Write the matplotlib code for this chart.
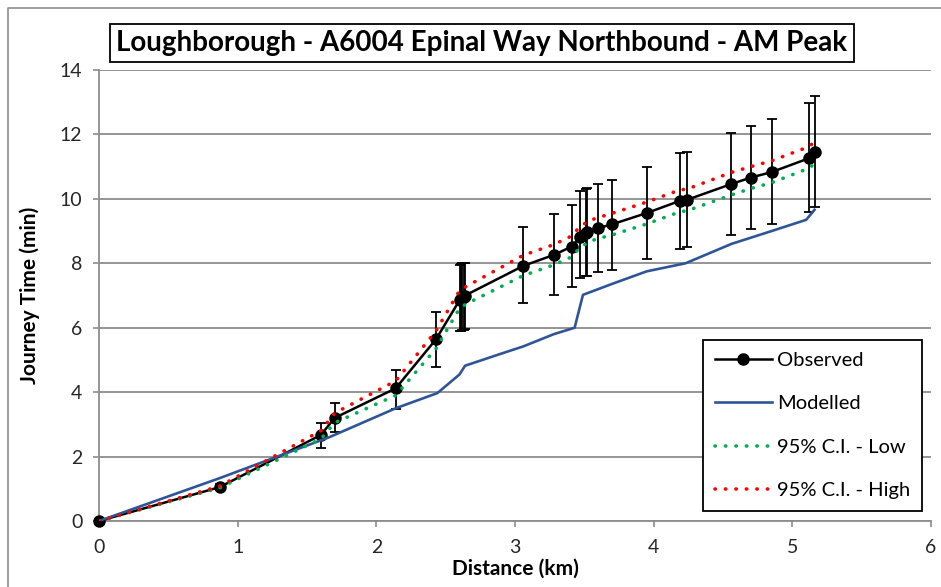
import matplotlib.pyplot as plt
from matplotlib.lines import Line2D

# ============================================================
# DATI
# ============================================================
distanza = [0.00, 0.87, 1.60, 1.70, 2.14, 2.43, 2.60, 2.61, 2.62, 2.63, 2.64,
            3.06, 3.28, 3.41, 3.47, 3.51, 3.52, 3.60, 3.70, 3.95, 4.19, 4.24,
            4.56, 4.70, 4.85, 5.12, 5.16]
osservato = [0.00, 1.05, 2.67, 3.20, 4.12, 5.64, 6.85, 6.88, 6.92, 6.96, 7.00,
             7.92, 8.26, 8.52, 8.83, 8.93, 8.98, 9.09, 9.21, 9.56, 9.94, 9.97,
             10.46, 10.66, 10.83, 11.26, 11.47]
err_basso = [0.00, 0.95, 2.26, 2.75, 3.48, 4.79, 5.90, 5.91, 5.92, 5.93, 5.95,
             6.76, 7.02, 7.25, 7.54, 7.59, 7.61, 7.74, 7.80, 8.14, 8.44, 8.50,
             8.88, 9.06, 9.21, 9.60, 9.74]
err_alto = [0.00, 1.15, 3.05, 3.65, 4.69, 6.50, 7.95, 7.97, 8.00, 8.01, 8.02,
            9.14, 9.52, 9.81, 10.23, 10.31, 10.33, 10.46, 10.59, 11.00, 11.42, 11.47,
            12.04, 12.27, 12.48, 12.99, 13.20]
ci_basso = [0.00, 1.03, 2.55, 3.05, 3.90, 5.35, 6.60, 6.62, 6.65, 6.68, 6.72,
            7.62, 7.95, 8.20, 8.50, 8.60, 8.65, 8.77, 8.88, 9.22, 9.60, 9.63,
            10.12, 10.32, 10.50, 10.95, 11.09]
ci_alto = [0.00, 1.08, 2.80, 3.35, 4.35, 5.90, 7.15, 7.18, 7.20, 7.23, 7.26,
           8.25, 8.58, 8.85, 9.15, 9.25, 9.30, 9.42, 9.55, 9.90, 10.28, 10.30,
           10.82, 11.00, 11.18, 11.62, 11.77]

dist_modello = [0.00, 0.87, 1.66, 2.14, 2.44, 2.60, 2.64, 2.89, 3.06, 3.28,
                3.43, 3.49, 3.70, 3.95, 4.23, 4.56, 4.85, 5.10, 5.16]
modellato = [0.00, 1.33, 2.60, 3.50, 3.97, 4.55, 4.82, 5.18, 5.42, 5.80,
             6.00, 7.02, 7.36, 7.75, 8.00, 8.60, 9.00, 9.35, 9.66]

TITOLO = "Loughborough - A6004 Epinal Way Northbound - AM Peak"

# ============================================================
# STILE
# ============================================================
FONT = "Lato"
COL_GRID = "#8c8c8c"
COL_MOD = "#2F5597"
COL_LOW = "#00B050"
COL_HIGH = "#FF0000"
DOTS = (0, (0.1, 2.8))

plt.rcParams["font.family"] = FONT

fig = plt.figure(figsize=(9.41, 5.87), dpi=100)
ax = fig.add_axes([99 / 941, 1 - 521 / 587, (931 - 99) / 941, (521 - 70) / 587])

ax.set_xlim(0, 6)
ax.set_ylim(0, 14)
ax.set_xticks(range(0, 7))
ax.set_yticks(range(0, 15, 2))
ax.yaxis.grid(True, color=COL_GRID, linewidth=1.3)
ax.set_axisbelow(True)
for s in ("top", "right"):
    ax.spines[s].set_visible(False)
for s in ("left", "bottom"):
    ax.spines[s].set_color(COL_GRID)
    ax.spines[s].set_linewidth(1.3)
ax.tick_params(colors=COL_GRID, labelcolor="#262626", labelsize=14,
               length=4, width=1.2, direction="out")
ax.tick_params(axis="x", pad=9)
ax.tick_params(axis="y", pad=8)

# osservato + barre d'errore
yerr = [[o - b for o, b in zip(osservato, err_basso)],
        [a - o for o, a in zip(osservato, err_alto)]]
ax.errorbar(distanza, osservato, yerr=yerr, color="black", linewidth=1.8,
            marker="o", markersize=8, ecolor="black", elinewidth=1.3,
            capsize=3.8, capthick=1.3, zorder=3, clip_on=False)
ax.plot(dist_modello, modellato, color=COL_MOD, linewidth=1.9, zorder=4)
ax.plot(distanza, ci_basso, color=COL_LOW, linewidth=2.6,
        linestyle=DOTS, dash_capstyle="round", zorder=5)
ax.plot(distanza, ci_alto, color=COL_HIGH, linewidth=2.6,
        linestyle=DOTS, dash_capstyle="round", zorder=6)

ax.set_xlabel("Distance (km)", fontsize=15, fontweight="bold", labelpad=2)
ax.set_ylabel("Journey Time (min)", fontsize=15, fontweight="bold", labelpad=14)

handles = [
    Line2D([], [], color="black", linewidth=1.8, marker="o", markersize=8),
    Line2D([], [], color=COL_MOD, linewidth=1.9),
    Line2D([], [], color=COL_LOW, linewidth=2.6, linestyle=DOTS,
           dash_capstyle="round"),
    Line2D([], [], color=COL_HIGH, linewidth=2.6, linestyle=DOTS,
           dash_capstyle="round"),
]
labels = ["Observed", "Modelled", "95% C.I. - Low", "95% C.I. - High"]
leg = ax.legend(handles, labels, loc="lower right",
                bbox_to_anchor=((922 - 99) / 832, (521 - 511) / 451),
                fontsize=14.5, handlelength=2.8, labelspacing=1.3,
                borderpad=0.6, handletextpad=0.25, borderaxespad=0,
                fancybox=False, framealpha=1, edgecolor="black")
leg.get_frame().set_linewidth(1.3)

fig.text(482 / 941, 1 - 43 / 587, TITOLO, ha="center", va="center",
         fontsize=20, fontweight="bold",
         bbox=dict(boxstyle="square,pad=0.22", facecolor="white",
                   edgecolor="black", linewidth=1.3))

# cornice del grafico
x0, y0 = 8 / 941, 1 - 8 / 587
fig.add_artist(Line2D([x0, x0, 1], [0, y0, y0], color=COL_GRID,
                      linewidth=1.2, transform=fig.transFigure))

fig.savefig("out.png", dpi=100, facecolor="white")
